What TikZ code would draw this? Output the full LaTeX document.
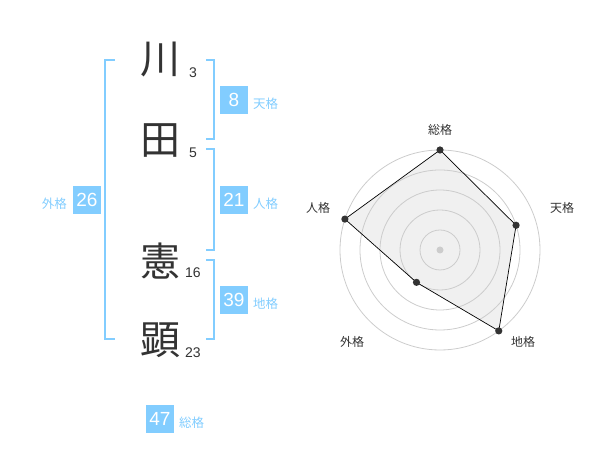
\documentclass[tikz,border=0pt]{standalone}
\usepackage{fontspec}
\setmainfont{Liberation Sans}
\newfontfamily\jp{Noto Sans CJK JP}
\definecolor{kakublue}{RGB}{130,205,255}
\definecolor{inkgray}{RGB}{51,51,51}
\definecolor{ringgray}{RGB}{204,204,204}
\definecolor{areagray}{RGB}{240,240,240}
\begin{document}
\begin{tikzpicture}[x=1pt, y=1pt]
            \useasboundingbox (0,0) rectangle (600,470);
            \tikzstyle{every node}=[inner sep=0pt, text=inkgray]
            \tikzstyle{kanji}=[font=\jp\fontsize{40}{40}\selectfont]
            \tikzstyle{stroke}=[font=\fontsize{14}{14}\selectfont]
            \tikzstyle{bracket}=[kakublue, line width=1.7pt]
            \tikzstyle{score}=[fill=kakublue, text=white, minimum size=28pt, font=\fontsize{19}{19}\selectfont]
            \tikzstyle{kaku}=[text=kakublue, font=\jp\fontsize{12.5}{12.5}\selectfont]

            % name characters and stroke counts
            \node[kanji] (c1) at (160,410) {川};
            \node[kanji] (c2) at (160,329) {田};
            \node[kanji] (c3) at (160,209) {憲};
            \node[kanji] (c4) at (160,130) {顕};
            \node[stroke] (n1) at (193,397) {3};
            \node[stroke] (n2) at (193,317) {5};
            \node[stroke] (n3) at (193,197) {16};
            \node[stroke] (n4) at (193,117) {23};

            % brackets
            \draw[bracket] (115,410) -- (105,410) -- (105,131) -- (115,131);
            \draw[bracket] (206,410) -- (214,410) -- (214,331) -- (206,331);
            \draw[bracket] (206,321) -- (214,321) -- (214,220) -- (206,220);
            \draw[bracket] (206,210) -- (214,210) -- (214,131) -- (206,131);

            % scores
            \node[score] (ten) at (234,370) {8};
            \node[score] (jin) at (234,270) {21};
            \node[score] (chi) at (234,170) {39};
            \node[score] (gai) at (87,270) {26};
            \node[score] (sou) at (160,51) {47};
            \node[kaku, anchor=west] (tenl) at (253,366) {天格};
            \node[kaku, anchor=west] (jinl) at (253,266) {人格};
            \node[kaku, anchor=west] (chil) at (253,166) {地格};
            \node[kaku, anchor=east] (gail) at (67,266) {外格};
            \node[kaku, anchor=west] (soul) at (179,47) {総格};

            % radar chart
            \coordinate (o) at (440,220);
            \coordinate (psou) at ([shift={(90:100)}]o);
            \coordinate (pten) at ([shift={(18:80)}]o);
            \coordinate (pchi) at ([shift={(-54:100)}]o);
            \coordinate (pgai) at ([shift={(-126:40)}]o);
            \coordinate (pjin) at ([shift={(162:100)}]o);
            \fill[areagray] (psou) -- (pten) -- (pchi) -- (pgai) -- (pjin) -- cycle;
            \foreach \r in {20,40,...,100}
                \draw[ringgray, line width=0.8pt] (o) circle (\r);
            \fill[ringgray] (o) circle (3.5);
            \draw[black, line width=0.7pt] (psou) -- (pten) -- (pchi) -- (pgai) -- (pjin) -- cycle;
            \foreach \p in {psou,pten,pchi,pgai,pjin}
                \fill[inkgray] (\p) circle (3.6);

            \tikzstyle{axis}=[font=\jp\fontsize{12}{12}\selectfont]
            \node[axis] (asou) at (440,340) {総格};
            \node[axis] (aten) at (562,262) {天格};
            \node[axis] (achi) at (523,128) {地格};
            \node[axis] (agai) at (352,128) {外格};
            \node[axis] (ajin) at (318,262) {人格};
\end{tikzpicture}
\end{document}
